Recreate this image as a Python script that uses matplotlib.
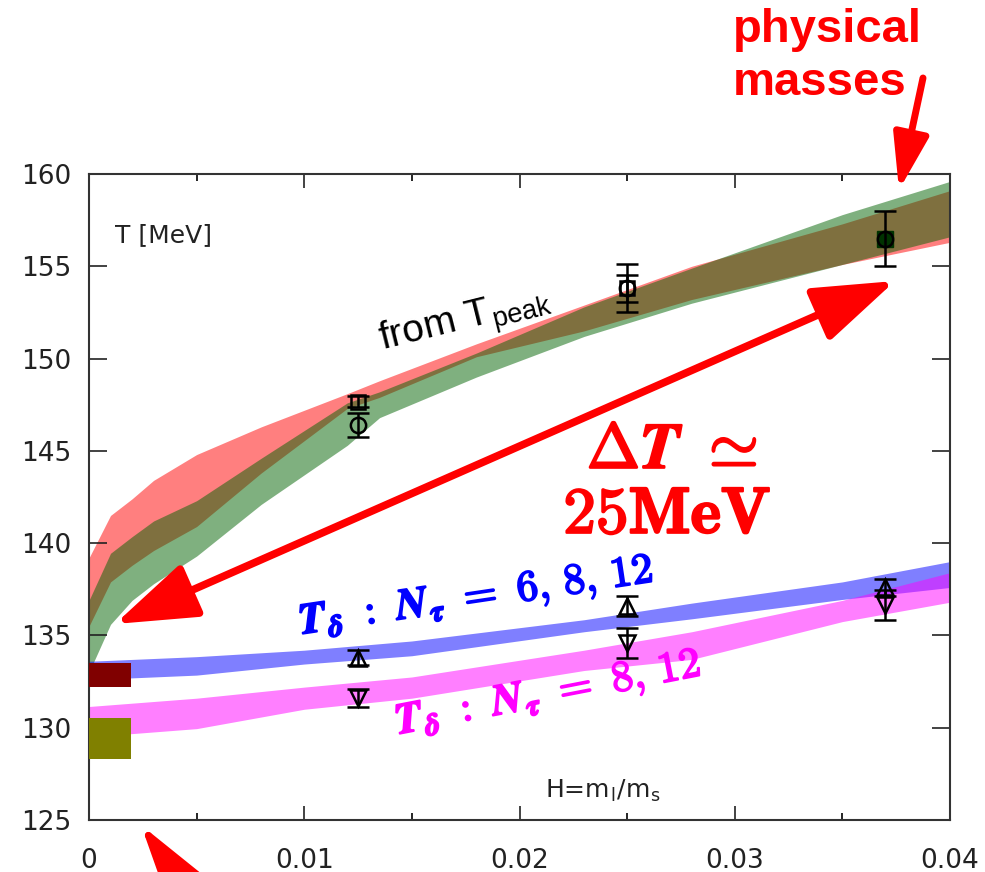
import matplotlib
matplotlib.use('Agg')
import matplotlib.pyplot as plt
import matplotlib.patheffects as pe
from matplotlib.patches import FancyArrowPatch, Rectangle
from matplotlib.ticker import MultipleLocator

plt.rcParams['mathtext.fontset'] = 'cm'
plt.rcParams['font.family'] = ['DejaVu Sans']

W, H = 985, 872

# ---- bands (T_peak) ----
band_x = [0, 0.001, 0.002, 0.003, 0.005, 0.008, 0.012, 0.0135, 0.018, 0.023, 0.028, 0.035, 0.04]
red_hi = [139.2, 141.5, 142.4, 143.4, 144.8, 146.3, 148.1, 148.8, 150.8, 152.9, 155.0, 157.3, 159.1]
red_lo = [135.5, 137.9, 138.8, 139.6, 140.9, 143.8, 147.3, 147.9, 150.1, 151.5, 153.2, 155.1, 156.3]
green_hi = [136.9, 139.45, 140.35, 141.2, 142.3, 144.6, 147.6, 148.2, 150.3, 152.8, 154.9, 157.8, 159.6]
green_lo = [133.0, 135.6, 136.9, 137.8, 139.3, 142.1, 145.3, 146.8, 149.0, 151.2, 153.0, 155.1, 156.6]

# ---- bands (T_delta) ----
low_x = [0, 0.005, 0.01, 0.015, 0.023, 0.028, 0.035, 0.04]
blue_hi = [133.6, 133.85, 134.2, 134.7, 135.85, 136.75, 137.9, 139.0]
blue_lo = [132.6, 132.85, 133.45, 133.9, 135.2, 135.9, 136.95, 137.6]
mag_hi = [131.15, 131.6, 132.2, 132.75, 134.2, 135.2, 136.9, 138.4]
mag_lo = [129.5, 129.95, 131.0, 131.6, 133.1, 133.7, 135.75, 136.8]

# ---- data points ----
sq_x = [0.0125, 0.025]
sq_y = [147.65, 153.8]
sq_e = [0.3, 0.75]
ci_x = [0.0125, 0.025, 0.037]
ci_y = [146.4, 153.8, 156.5]
ci_e = [0.65, 1.3, 1.5]
up_x = [0.0125, 0.025, 0.037]
up_y = [133.8, 136.6, 137.6]
up_e = [0.4, 0.55, 0.45]
dn_x = [0.0125, 0.025, 0.037]
dn_y = [131.6, 134.6, 136.65]
dn_e = [0.5, 0.8, 0.8]

# ---- chiral-limit boxes ----
box_x1 = 0.00195
darkred_box = [132.2, 133.5]
olive_box = [128.3, 130.5]

xticks = [0, 0.01, 0.02, 0.03, 0.04]
xtick_labels = ['0', '0.01', '0.02', '0.03', '0.04']
yticks = [125, 130, 135, 140, 145, 150, 155, 160]

fig = plt.figure(figsize=(W / 100, H / 100), dpi=100)
ax = fig.add_axes([89 / W, 1 - 820 / H, (950 - 89) / W, (820 - 174) / H])
ax.set_xlim(0, 0.04)
ax.set_ylim(125, 160)

ax.fill_between(band_x, red_lo, red_hi, color='red', alpha=0.5, lw=0)
ax.fill_between(band_x, green_lo, green_hi, color=(0, 0.39, 0), alpha=0.5, lw=0)
ax.fill_between(low_x, blue_lo, blue_hi, color='blue', alpha=0.5, lw=0)
ax.fill_between(low_x, mag_lo, mag_hi, color='magenta', alpha=0.5, lw=0)

ax.add_patch(Rectangle((0, darkred_box[0]), box_x1, darkred_box[1] - darkred_box[0],
                       color='#800000', lw=0, zorder=3))
ax.add_patch(Rectangle((0, olive_box[0]), box_x1, olive_box[1] - olive_box[0],
                       color='#808000', lw=0, zorder=3))

ax.plot([ci_x[-1]], [ci_y[-1]], 's', color='#003300', ms=11, zorder=3)
eb = dict(color='black', capsize=8, elinewidth=1.8, capthick=1.8, ls='none',
          mfc='none', mec='black', mew=1.8, zorder=4)
ax.errorbar(sq_x, sq_y, yerr=sq_e, marker='s', ms=10, **eb)
ax.errorbar(ci_x, ci_y, yerr=ci_e, marker='o', ms=11, **eb)
ax.errorbar(up_x, up_y, yerr=up_e, marker='^', ms=11, **eb)
ax.errorbar(dn_x, dn_y, yerr=dn_e, marker='v', ms=11, **eb)

ax.set_xticks(xticks)
ax.set_xticklabels(xtick_labels)
ax.set_yticks(yticks)
ax.xaxis.set_minor_locator(MultipleLocator(0.005))
ax.tick_params(axis='x', which='major', direction='in', length=10, width=1.2,
               top=True, pad=20, labelsize=19, colors='#222222')
ax.tick_params(axis='x', which='minor', direction='in', length=5, width=1.2, top=True)
ax.tick_params(axis='y', which='major', direction='in', length=13, width=1.2,
               right=True, pad=13, labelsize=19, colors='#222222')
for s in ax.spines.values():
    s.set_linewidth(1.5)
    s.set_color('#333333')

ax.text(0.0012, 156.7, 'T [MeV]', fontsize=18, ha='left', va='center', color='#222222')
ax.text(0.0212, 126.6, r'H=m$_{\mathregular{l}}$/m$_{\mathregular{s}}$', fontsize=18,
        ha='left', va='center', color='#222222')


def fx(x):
    return x / W


def fy(y):
    return 1 - y / H


fig.text(fx(466), fy(322), r'from T$_{\mathregular{peak}}$', fontsize=28, rotation=14,
         family='Liberation Sans', ha='center', va='center', color='black')

bold = [pe.withStroke(linewidth=1.6, foreground='red')]
fig.text(fx(672), fy(450), r'$\Delta\mathbfit{T}\ \simeq$', fontsize=46,
         ha='center', va='center', color='red', path_effects=bold)
fig.text(fx(667), fy(515), r'$\mathbf{25MeV}$', fontsize=47,
         ha='center', va='center', color='red', path_effects=bold)

bb = [pe.withStroke(linewidth=1.4, foreground='blue')]
bm = [pe.withStroke(linewidth=1.4, foreground='magenta')]
fig.text(fx(476), fy(597),
         r'$\mathbfit{T}_{\mathbfit{\delta}}\ \mathbf{:}\ \mathbfit{N}_{\mathbfit{\tau}}\ \mathbf{=}\ \mathbf{6,\,8,\,12}$',
         fontsize=31, rotation=8.5, ha='center', va='center', color='blue', path_effects=bb)
fig.text(fx(548), fy(694),
         r'$\mathbfit{T}_{\mathbfit{\delta}}\ \mathbf{:}\ \mathbfit{N}_{\mathbfit{\tau}}\ \mathbf{=}\ \mathbf{8,\,12}$',
         fontsize=31, rotation=11, ha='center', va='center', color='magenta', path_effects=bm)

fig.text(fx(733), fy(42), 'physical', fontsize=34, fontweight='bold',
         family='Liberation Sans', ha='left', va='baseline', color='red')
fig.text(fx(733), fy(95), 'masses', fontsize=34, fontweight='bold',
         family='Liberation Sans', ha='left', va='baseline', color='red')


def arrow(p0, p1, style, hl, hw, lw):
    a = FancyArrowPatch((p0[0], H - p0[1]), (p1[0], H - p1[1]),
                        transform=None,
                        arrowstyle=f'{style},head_length={hl / 1.389},head_width={hw / 2 / 1.389}',
                        mutation_scale=1, lw=lw, color='red', shrinkA=0, shrinkB=0)
    fig.patches.append(a)


arrow((115, 624), (895, 281), '<|-|>', 70, 48, 5.5)
arrow((923, 78), (899, 190), '-|>', 47, 30, 5)
arrow((258, 990), (141, 825), '-|>', 60, 34, 5)

fig.savefig('out.png', dpi=100)
